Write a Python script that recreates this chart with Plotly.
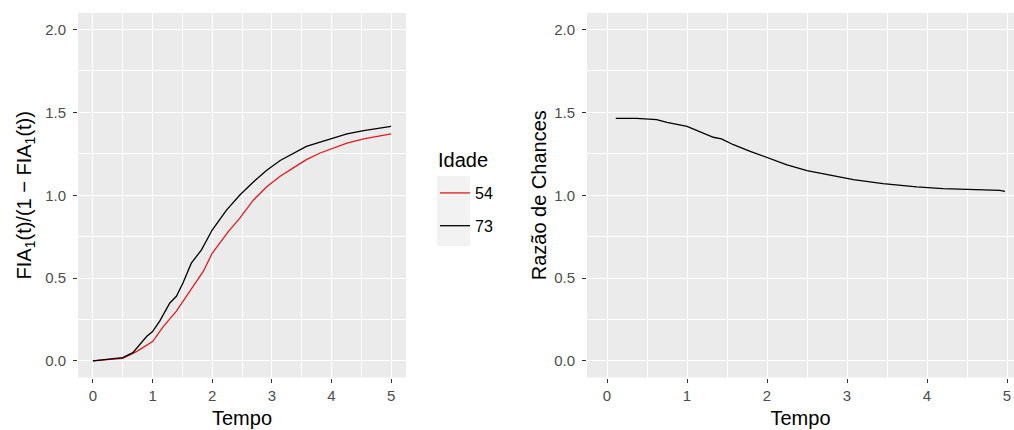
import plotly.graph_objects as go

# Curva da razão FIA1/(1-FIA1) ao longo do tempo, por idade
tempo_73 = [0.0, 0.5, 0.67, 0.9, 1.0, 1.12, 1.29, 1.4, 1.51, 1.65, 1.82, 2.0, 2.24, 2.46,
            2.69, 2.91, 3.14, 3.36, 3.58, 3.81, 4.03, 4.26, 4.54, 5.0]
odds_73 = [0.0, 0.02, 0.05, 0.147, 0.177, 0.24, 0.35, 0.39, 0.47, 0.59, 0.67, 0.79, 0.91, 1.0,
           1.08, 1.15, 1.21, 1.255, 1.295, 1.32, 1.345, 1.37, 1.39, 1.416]

tempo_54 = [0.0, 0.5, 0.73, 1.0, 1.18, 1.4, 1.68, 1.85, 2.0, 2.27, 2.46, 2.69, 2.91, 3.14,
            3.36, 3.58, 3.81, 4.03, 4.26, 4.54, 5.0]
odds_54 = [0.0, 0.016, 0.056, 0.117, 0.207, 0.30, 0.45, 0.54, 0.65, 0.78, 0.86, 0.97, 1.05, 1.115,
           1.165, 1.215, 1.255, 1.285, 1.315, 1.34, 1.37]

# Razão de chances (73 vs 54)
tempo_rc = [0.11, 0.37, 0.62, 0.75, 1.0, 1.16, 1.33, 1.43, 1.58, 1.79, 2.0, 2.25, 2.5, 2.79,
            3.08, 3.45, 3.87, 4.2, 4.5, 4.91, 4.975]
razao_rc = [1.464, 1.464, 1.456, 1.44, 1.416, 1.386, 1.35, 1.34, 1.305, 1.265, 1.23, 1.184,
            1.148, 1.122, 1.094, 1.07, 1.05, 1.04, 1.034, 1.03, 1.024]

x_ticks = [0, 1, 2, 3, 4, 5]
y_ticks = [0.0, 0.5, 1.0, 1.5, 2.0]
y_tick_text = ["0.0", "0.5", "1.0", "1.5", "2.0"]

W, H = 1014, 430
FONT = "Liberation Sans, Arial, sans-serif"

fig = go.Figure()
fig.add_trace(go.Scatter(x=tempo_54, y=odds_54, mode="lines", name="54", legendgroup="54",
                         line=dict(color="#E41A1C", width=1.3), xaxis="x", yaxis="y"))
fig.add_trace(go.Scatter(x=tempo_73, y=odds_73, mode="lines", name="73", legendgroup="73",
                         line=dict(color="#000000", width=1.3), xaxis="x", yaxis="y"))
fig.add_trace(go.Scatter(x=tempo_rc, y=razao_rc, mode="lines", showlegend=False,
                         line=dict(color="#000000", width=1.3), xaxis="x2", yaxis="y2"))

ydom = [1 - 377.5 / H, 1 - 13 / H]

def xax(dom, rng, anchor):
    return dict(domain=dom, range=rng, anchor=anchor, tickvals=x_ticks,
                ticks="outside", ticklen=4, tickwidth=1, tickcolor="#333333",
                tickfont=dict(size=15, color="#4D4D4D", family=FONT),
                showgrid=True, gridcolor="white", gridwidth=1.3, zeroline=False,
                showline=False,
                minor=dict(dtick=0.5, tick0=0.5, showgrid=True, gridcolor="white",
                           gridwidth=0.6, ticks=""),
                title=dict(text="Tempo", font=dict(size=20, color="black", family=FONT),
                           standoff=8))

def yax(dom, anchor, title, standoff):
    return dict(domain=dom, range=[-0.1, 2.1], anchor=anchor, tickvals=y_ticks,
                ticktext=y_tick_text, ticklabelstandoff=4,
                ticks="outside", ticklen=4, tickwidth=1, tickcolor="#333333",
                tickfont=dict(size=15, color="#4D4D4D", family=FONT),
                showgrid=True, gridcolor="white", gridwidth=1.3, zeroline=False,
                showline=False,
                minor=dict(dtick=0.25, tick0=0.25, showgrid=True, gridcolor="white",
                           gridwidth=0.6, ticks=""),
                title=dict(text=title, font=dict(size=20, color="black", family=FONT),
                           standoff=standoff))

fig.update_layout(
    width=W, height=H,
    margin=dict(l=0, r=0, t=0, b=0),
    paper_bgcolor="white", plot_bgcolor="#EBEBEB",
    font=dict(family=FONT),
    xaxis=xax([78 / W, 406 / W], [-0.25, 5.25], "y"),
    yaxis=yax(ydom, "x", "FIA<sub>1</sub>(t)/(1 − FIA<sub>1</sub>(t))", 8),
    xaxis2=xax([587 / W, 1.0], [-0.25, 5.0875], "y2"),
    yaxis2=yax(ydom, "x2", "Razão de Chances", 2),
    legend=dict(x=435 / W, y=1 - 176 / H, xanchor="left", yanchor="top",
                font=dict(size=16, color="black", family=FONT),
                bgcolor="rgba(0,0,0,0)", itemwidth=30, tracegroupgap=9),
    annotations=[dict(text="Idade", xref="paper", yref="paper", x=436 / W, y=1 - 160 / H,
                      xanchor="left", yanchor="middle", showarrow=False,
                      font=dict(size=20, color="black", family=FONT))],
    shapes=[dict(type="rect", xref="paper", yref="paper",
                 x0=437 / W, x1=470 / W, y0=1 - 246 / H, y1=1 - 176 / H,
                 fillcolor="#F2F2F2", line=dict(width=0), layer="below")],
)

fig.write_html("out.html")
